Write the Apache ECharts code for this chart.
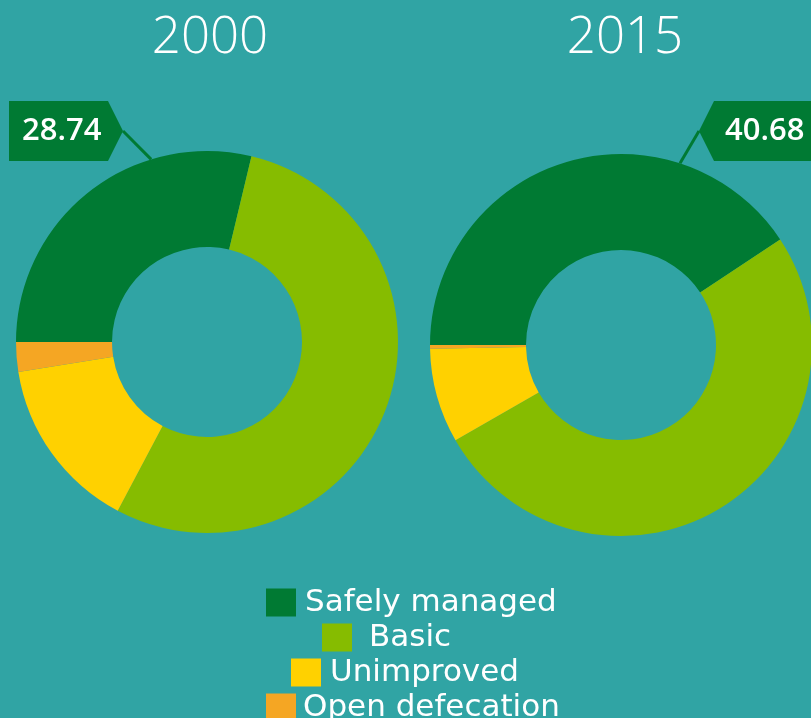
<!DOCTYPE html>
<html>
<head>
<meta charset="utf-8">
<script src="https://cdn.jsdelivr.net/npm/echarts@6/dist/echarts.min.js"></script>
<style>
  html, body { margin: 0; padding: 0; background: #30a4a4; }
  #chart { width: 811px; height: 718px; }
</style>
</head>
<body>
<div id="chart"></div>
<script>
// data
const categories = ['Safely managed', 'Basic', 'Unimproved', 'Open defecation']
const years = ['2000', '2015']
const values2000 = [28.74, 54.0, 14.76, 2.5]
const values2015 = [40.68, 51.0, 8.0, 0.32]

const colors = ['#007a33', '#86bc00', '#ffd100', '#f5a623']
const font = "'Open Sans', sans-serif"
const legendFont = "'DejaVu Sans', sans-serif"
const R0 = 95
const R1 = 191

// pennant shaped background for the value tag
function makeTag(side, w) {
  const h = 60
  const d = 15
  const c = document.createElement('canvas')
  c.width = w
  c.height = h
  const ctx = c.getContext('2d')
  ctx.fillStyle = colors[0]
  ctx.beginPath()
  if (side === 'right') {
    ctx.moveTo(0, 0); ctx.lineTo(w - d, 0); ctx.lineTo(w, h / 2); ctx.lineTo(w - d, h); ctx.lineTo(0, h)
  } else {
    ctx.moveTo(d, 0); ctx.lineTo(w, 0); ctx.lineTo(w, h); ctx.lineTo(d, h); ctx.lineTo(0, h / 2)
  }
  ctx.closePath()
  ctx.fill()
  return c
}

// tag sits at (tagX, 101); guide line from its tip to the ring at angle deg (clockwise from top)
function donut(values, center, side, tagX, tagW, deg) {
  const pad = side === 'right' ? [14, 21, 14, 13] : [14, 13, 14, 26]
  const tip = [side === 'right' ? tagX + tagW : tagX, 131]
  const a = deg * Math.PI / 180
  const onRing = [center[0] + Math.sin(a) * R1, center[1] - Math.cos(a) * R1]
  return {
    type: 'pie',
    radius: [R0, R1],
    center: center,
    startAngle: 180,
    clockwise: true,
    silent: true,
    avoidLabelOverlap: false,
    label: { show: false },
    labelLine: { show: false },
    data: values.map((v, i) => {
      const item = { name: categories[i], value: v, itemStyle: { color: colors[i] } }
      if (i === 0) {
        item.label = {
          show: true,
          position: 'outside',
          formatter: '{c}',
          color: '#fff',
          fontFamily: font,
          fontSize: 31,
          fontWeight: 600,
          lineHeight: 32,
          overflow: 'none',
          padding: pad,
          backgroundColor: { image: makeTag(side, tagW) }
        }
        item.labelLine = {
          show: true,
          length: 20,
          length2: 0,
          lineStyle: { color: colors[0], width: 3 }
        }
      }
      return item
    }),
    labelLayout: function() {
      return {
        x: tagX, y: 101, align: 'left', verticalAlign: 'top',
        width: tagW - pad[1] - pad[3],
        labelLinePoints: [onRing, tip, tip]
      }
    }
  }
}

const legendPos = [[266, 587, 4], [322, 622, 12], [291, 657, 4], [266, 692, 2]]

const option = {
  backgroundColor: '#30a4a4',
  animation: false,
  title: [
    { text: years[0], left: 205, top: 8, textAlign: 'center',
      textStyle: { color: '#fff', fontSize: 51, fontWeight: 300, fontFamily: font } },
    { text: years[1], left: 620, top: 8, textAlign: 'center',
      textStyle: { color: '#fff', fontSize: 51, fontWeight: 300, fontFamily: font } }
  ],
  legend: categories.map((name, i) => ({
    data: [name],
    left: legendPos[i][0],
    top: legendPos[i][1],
    padding: 0,
    itemWidth: 30,
    itemHeight: 28,
    icon: 'rect',
    selectedMode: false,
    textStyle: { color: '#fff', fontSize: 31, fontFamily: legendFont, padding: [0, 0, 0, legendPos[i][2]] }
  })),
  series: [
    donut(values2000, [207, 342], 'right', 9, 114, -17),
    donut(values2015, [621, 345], 'left', 699, 120, 18)
  ]
}

const myChart = echarts.init(document.getElementById('chart'))
myChart.setOption(option, true)
</script>
</body>
</html>
